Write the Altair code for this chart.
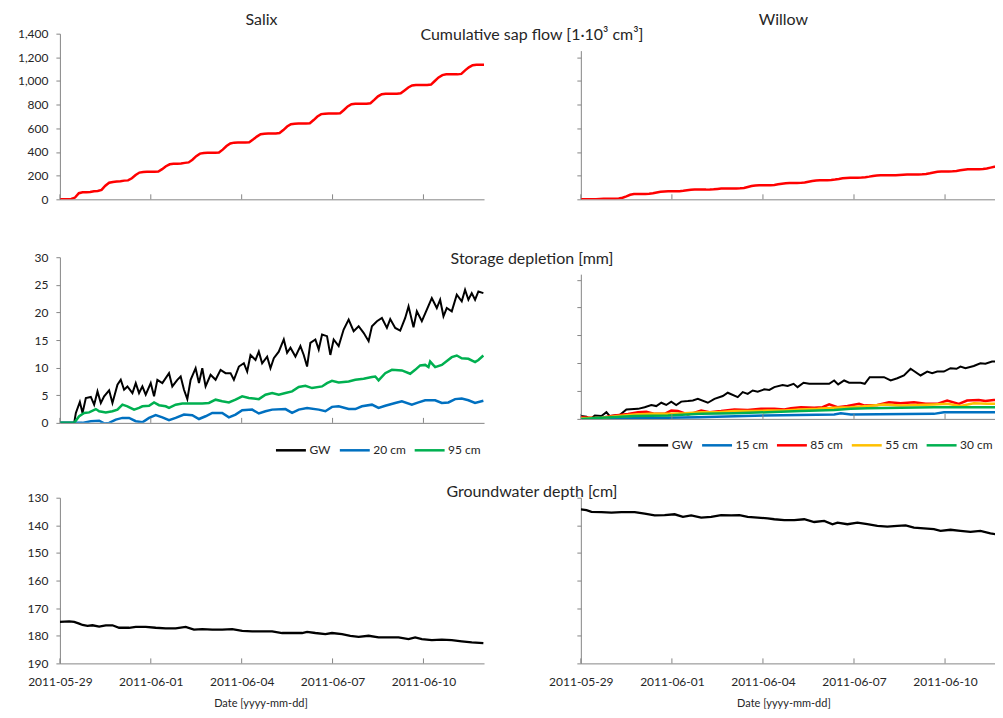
import altair as alt
import pandas as pd

# ---------------- data (days after 2011-05-29 00:00) ----------------
STEP3 = [i / 8 for i in range(113)]  # 3-hourly time grid, 0..14 days

salix_sap = [
    0, 0, 0, 3, 15, 52, 60, 60,
    62, 68, 70, 80, 115, 140, 147, 150,
    152, 158, 160, 178, 205, 226, 231, 232,
    233, 233, 235, 255, 280, 296, 300, 301,
    303, 308, 312, 335, 365, 386, 392, 393,
    393, 393, 395, 420, 450, 472, 479, 480,
    480, 480, 482, 505, 530, 550, 555, 556,
    556, 556, 560, 585, 615, 635, 639, 640,
    640, 640, 643, 670, 700, 720, 724, 725,
    725, 725, 728, 755, 785, 804, 808, 808,
    808, 808, 812, 840, 870, 888, 893, 893,
    893, 893, 896, 920, 945, 962, 966, 966,
    966, 966, 970, 1000, 1030, 1050, 1056, 1056,
    1056, 1056, 1060, 1090, 1115, 1133, 1138, 1138,
    1138,
]

willow_sap = [
    0, 0, 0, 0, 1, 3, 4, 5,
    5, 5, 8, 14, 25, 38, 44, 45,
    45, 46, 48, 52, 58, 64, 67, 68,
    68, 68, 69, 72, 76, 80, 82, 82,
    82, 82, 83, 85, 88, 91, 92, 92,
    92, 92, 93, 96, 104, 112, 116, 118,
    118, 118, 119, 122, 127, 132, 136, 138,
    138, 138, 139, 143, 149, 155, 160, 162,
    162, 162, 163, 167, 172, 178, 181, 183,
    183, 183, 184, 187, 192, 198, 201, 203,
    203, 203, 203, 204, 206, 208, 209, 210,
    210, 210, 211, 214, 220, 227, 233, 236,
    236, 236, 237, 240, 245, 250, 254, 255,
    255, 255, 257, 261, 268, 275, 280, 282,
    283,
]

# Salix storage depletion [mm]
salix_gw_t = [
    0, 0.472, 0.527, 0.659, 0.747, 0.856, 1.021, 1.131, 1.241, 1.351,
    1.460, 1.625, 1.735, 1.900, 2.009, 2.119, 2.229, 2.394, 2.504, 2.613,
    2.723, 2.833, 2.998, 3.108, 3.217, 3.382, 3.602, 3.711, 3.876, 3.986,
    4.096, 4.206, 4.315, 4.480, 4.590, 4.700, 4.809, 4.974, 5.139, 5.304,
    5.468, 5.633, 5.743, 5.908, 6.072, 6.182, 6.292, 6.457, 6.566, 6.676,
    6.841, 6.951, 7.061, 7.225, 7.390, 7.500, 7.610, 7.774, 7.939, 8.049,
    8.159, 8.268, 8.433, 8.543, 8.653, 8.817, 8.927, 9.037, 9.202, 9.366,
    9.531, 9.696, 9.861, 10.025, 10.190, 10.300, 10.465, 10.629, 10.794, 10.904,
    11.068, 11.233, 11.398, 11.508, 11.672, 11.782, 11.947, 12.112, 12.276, 12.441,
    12.551, 12.661, 12.770, 12.935, 13.100, 13.264, 13.374, 13.484, 13.594, 13.704,
    13.814, 13.978,
]
salix_gw_v = [
    0, 0, 1.8, 3.8, 1.8, 4.5, 4.7, 3.3, 5.7, 3.6,
    4.8, 5.9, 3.6, 6.9, 7.8, 6.0, 6.6, 5.4, 7.2, 5.4,
    6.6, 5.1, 7.2, 4.8, 7.8, 7.2, 9.0, 6.6, 7.8, 8.4,
    6.0, 4.3, 7.8, 9.9, 7.2, 9.9, 6.6, 8.7, 7.8, 9.6,
    9.0, 9.0, 7.8, 10.2, 10.8, 9.3, 12.3, 11.4, 12.9, 10.8,
    12.0, 9.9, 11.7, 12.9, 15.1, 12.7, 13.6, 12.0, 13.9, 12.3,
    10.2, 14.5, 15.1, 13.3, 16.0, 15.7, 12.3, 15.1, 13.9, 16.9,
    18.7, 16.6, 17.5, 16.3, 14.8, 17.5, 18.4, 19.0, 17.2, 18.8,
    17.2, 16.7, 19.0, 21.1, 17.3, 20.2, 18.4, 20.5, 22.6, 20.8,
    22.3, 19.3, 20.8, 20.2, 23.2, 22.0, 24.1, 22.3, 23.5, 22.3,
    23.8, 23.5,
]
salix_95_t = [
    0, 0.472, 0.637, 0.802, 0.966, 1.186, 1.296, 1.515, 1.735, 1.900,
    2.064, 2.229, 2.449, 2.613, 2.723, 2.943, 3.108, 3.272, 3.492, 3.602,
    3.821, 4.041, 4.370, 4.700, 4.919, 5.139, 5.358, 5.578, 5.798, 6.017,
    6.237, 6.566, 6.786, 7.006, 7.225, 7.445, 7.664, 7.884, 8.104, 8.323,
    8.653, 8.817, 8.982, 9.202, 9.531, 9.751, 10.025, 10.300, 10.410, 10.519,
    10.739, 10.959, 11.288, 11.563, 11.727, 11.892, 12.057, 12.166, 12.221, 12.386,
    12.606, 12.935, 13.100, 13.264, 13.484, 13.704, 13.814, 13.978,
]
salix_95_v = [
    0, 0, 1.2, 1.8, 1.9, 2.5, 2.1, 1.9, 2.1, 2.4,
    3.3, 3.0, 2.4, 2.7, 3.0, 3.1, 3.7, 3.2, 3.0, 2.7,
    3.3, 3.5, 3.5, 3.5, 3.6, 4.2, 3.9, 3.7, 4.2, 4.8,
    4.5, 4.3, 5.1, 5.4, 5.1, 5.4, 5.7, 6.5, 6.7, 6.3,
    6.6, 7.2, 7.6, 7.3, 7.5, 7.8, 8.0, 8.3, 8.4, 7.7,
    9.0, 9.6, 9.5, 8.9, 9.6, 10.4, 10.5, 10.1, 11.1, 10.1,
    10.5, 11.9, 12.2, 11.7, 11.6, 11.0, 11.4, 12.2,
]
salix_20_t = [
    0, 0.747, 1.021, 1.296, 1.460, 1.625, 1.845, 2.064, 2.284, 2.504,
    2.723, 2.943, 3.162, 3.382, 3.602, 3.821, 4.096, 4.370, 4.590, 4.809,
    5.029, 5.358, 5.578, 5.798, 6.017, 6.347, 6.566, 6.786, 7.006, 7.445,
    7.664, 7.884, 8.159, 8.543, 8.763, 8.982, 9.202, 9.531, 9.751, 9.970,
    10.300, 10.519, 10.739, 11.068, 11.288, 11.617, 11.837, 12.057, 12.386, 12.606,
    12.825, 13.045, 13.264, 13.484, 13.704, 13.978,
]
salix_20_v = [
    0, 0, 0.3, 0.4, -0.1, 0, 0.6, 0.9, 0.9, 0.3,
    0.1, 0.9, 1.4, 1.0, 0.5, 0.9, 1.5, 1.4, 0.7, 1.2,
    1.8, 1.8, 1.0, 1.5, 2.3, 2.4, 1.7, 2.1, 2.4, 2.5,
    1.8, 2.4, 2.7, 2.4, 2.1, 2.9, 3.0, 2.5, 2.5, 3.0,
    3.3, 2.7, 3.1, 3.6, 3.9, 3.3, 3.7, 4.1, 4.1, 3.6,
    3.7, 4.3, 4.4, 4.1, 3.6, 4.0,
]

# Willow storage depletion [mm]
willow_gw_t = [
    0, 0.186, 0.296, 0.460, 0.679, 0.843, 0.953, 1.281, 1.501, 1.884,
    2.103, 2.322, 2.486, 2.651, 2.815, 2.979, 3.143, 3.308, 3.527, 3.691,
    3.855, 4.184, 4.403, 4.677, 4.841, 5.170, 5.334, 5.498, 5.663, 5.827,
    6.046, 6.210, 6.375, 6.648, 6.813, 7.010, 7.141, 7.338, 7.525, 8.182,
    8.346, 8.478, 8.675, 8.839, 9.222, 9.354, 9.518, 9.989, 10.208, 10.427,
    10.646, 10.865, 11.194, 11.413, 11.577, 11.741, 11.961, 12.180, 12.377, 12.508,
    12.673, 12.946, 13.165, 13.330, 13.549, 13.713, 13.921, 14.0,
]
willow_gw_v = [
    0.5, 0.4, -0.1, 0.6, 0.5, 1.2, 0.5, 0.7, 1.7, 1.8,
    2.1, 2.5, 2.3, 2.9, 2.5, 3.1, 2.5, 3.1, 3.2, 3.3,
    3.6, 2.9, 3.6, 4.1, 4.7, 3.9, 4.8, 4.5, 5.1, 4.9,
    5.3, 5.2, 5.7, 6.1, 5.9, 6.3, 5.7, 6.5, 6.3, 6.3,
    6.9, 6.2, 6.9, 6.5, 6.5, 6.3, 7.5, 7.5, 6.9, 7.3,
    7.8, 9.0, 7.8, 8.5, 8.2, 8.5, 8.5, 9.1, 9.0, 9.4,
    9.1, 9.5, 10.0, 9.9, 10.3, 10.3, 10.0, 10.1,
]
willow_85_t = [
    0, 0.350, 0.570, 0.789, 1.117, 1.555, 1.884, 2.158, 2.432, 2.760,
    2.979, 3.198, 3.527, 3.746, 3.965, 4.239, 4.622, 5.060, 5.498, 5.936,
    6.375, 6.703, 6.922, 7.251, 7.689, 7.963, 8.182, 8.456, 8.784, 9.168,
    9.332, 9.770, 10.153, 10.537, 10.975, 11.358, 11.741, 12.070, 12.453, 12.727,
    13.111, 13.330, 13.604, 13.921, 14.0,
]
willow_85_v = [
    0.3, 0.2, -0.2, 0.3, 0.6, 0.9, 1.2, 1.3, 0.9, 0.9,
    1.5, 1.4, 0.8, 1.1, 1.5, 1.2, 1.4, 1.7, 1.6, 1.8,
    1.8, 1.7, 1.9, 2.1, 2.0, 2.1, 2.6, 2.1, 2.3, 2.7,
    2.4, 2.5, 3.0, 2.8, 3.0, 2.7, 2.7, 3.3, 2.7, 3.3,
    3.4, 3.2, 3.4, 3.3, 3.3,
]
willow_55_t = [
    0, 0.679, 1.227, 1.774, 2.322, 2.870, 3.417, 3.965, 4.513, 5.060,
    5.608, 6.156, 6.703, 7.251, 7.799, 8.346, 8.894, 9.441, 9.989, 10.537,
    11.084, 11.632, 12.070, 12.508, 12.946, 13.384, 13.921, 14.0,
]
willow_55_v = [
    0.1, 0.2, 0.5, 0.8, 0.9, 0.9, 1.0, 1.2, 1.2, 1.4,
    1.4, 1.5, 1.5, 1.7, 1.8, 2.0, 2.1, 2.3, 2.6, 2.4,
    2.5, 2.6, 2.7, 2.3, 2.8, 2.7, 2.7, 2.7,
]
willow_30_t = [0, 0.679, 1.774, 2.870, 3.965, 5.060, 6.156, 7.251, 8.346, 8.894,
               9.441, 10.537, 11.632, 12.727, 14.0]
willow_30_v = [0, 0.2, 0.5, 0.6, 0.9, 1.0, 1.2, 1.4, 1.6, 1.8,
               1.9, 2.0, 2.1, 2.1, 2.1]
willow_15_t = [0, 1.774, 3.855, 6.046, 8.346, 8.565, 8.894, 11.632, 11.961, 14.0]
willow_15_v = [0, 0.1, 0.3, 0.6, 0.8, 1.0, 0.8, 0.9, 1.2, 1.2]

# Groundwater depth [cm]
salix_depth_t = [
    0, 0.307, 0.472, 0.637, 0.747, 0.911, 1.076, 1.296, 1.515, 1.735,
    1.955, 2.284, 2.504, 2.833, 3.162, 3.492, 3.821, 4.151, 4.425, 4.700,
    5.029, 5.358, 5.688, 6.017, 6.347, 6.676, 7.006, 7.335, 7.664, 7.994,
    8.159, 8.433, 8.763, 8.982, 9.311, 9.586, 9.861, 10.190, 10.519, 10.849,
    11.178, 11.508, 11.727, 11.947, 12.276, 12.606, 12.935, 13.264, 13.594, 13.978,
]
salix_depth_v = [
    175.0, 174.8, 175.0, 175.6, 176.1, 176.4, 176.2, 176.7, 176.2, 176.2,
    177.1, 177.1, 176.8, 176.8, 177.1, 177.3, 177.3, 176.8, 177.8, 177.6,
    177.8, 177.8, 177.6, 178.2, 178.4, 178.4, 178.4, 179.0, 179.0, 179.0,
    178.6, 179.0, 179.4, 179.0, 179.4, 180.0, 180.4, 180.0, 180.6, 180.6,
    180.6, 181.2, 180.6, 181.2, 181.6, 181.4, 181.6, 182.0, 182.4, 182.7,
]
willow_depth_t = [
    0, 0.186, 0.350, 0.679, 1.008, 1.336, 1.774, 2.103, 2.432, 2.760,
    3.089, 3.363, 3.636, 3.965, 4.294, 4.622, 4.951, 5.225, 5.498, 5.827,
    6.156, 6.375, 6.703, 7.032, 7.360, 7.689, 8.018, 8.291, 8.456, 8.784,
    9.113, 9.441, 9.770, 10.099, 10.427, 10.701, 10.975, 11.303, 11.632, 11.851,
    12.180, 12.508, 12.837, 13.165, 13.494, 13.713, 13.921, 14.0,
]
willow_depth_v = [
    134.2, 134.5, 135.1, 135.2, 135.4, 135.2, 135.2, 135.8, 136.4, 136.3,
    136.0, 136.9, 136.4, 137.2, 136.9, 136.3, 136.4, 136.3, 136.9, 137.2,
    137.5, 137.8, 138.1, 138.1, 137.8, 138.8, 138.4, 139.6, 139.0, 139.6,
    139.0, 139.6, 140.2, 140.5, 140.2, 140.0, 140.8, 141.1, 141.4, 142.0,
    141.6, 142.0, 142.4, 142.0, 142.9, 143.3, 142.9, 143.0,
]

tick_dates = ["2011-05-29", "2011-06-01", "2011-06-04", "2011-06-07", "2011-06-10"]
salix_names = ["GW", "20 cm", "95 cm"]
salix_colors = ["#000000", "#0070C0", "#00B050"]
willow_names = ["GW", "15 cm", "85 cm", "55 cm", "30 cm"]
willow_colors = ["#000000", "#0070C0", "#FF0000", "#FFC000", "#00B050"]

# ---------------- styling ----------------
FONT = "Lato"
AX = "#868686"
TXT = "#262626"
BASE = pd.Timestamp("2011-05-29")


def to_dates(days):
    return [(BASE + pd.Timedelta(days=d)).strftime("%Y-%m-%dT%H:%M:%S") for d in days]


tick_vals = [alt.DateTime(year=int(s[:4]), month=int(s[5:7]), date=int(s[8:])) for s in tick_dates]
# left panels show the full fortnight; the right panels are cut by the page edge
xs_left = alt.Scale(domain=[alt.DateTime(year=2011, month=5, date=29),
                            alt.DateTime(year=2011, month=6, date=12)])
xs_right = alt.Scale(domain=[alt.DateTime(year=2011, month=5, date=29),
                             alt.DateTime(year=2011, month=6, date=11, hours=15, minutes=30)])

x_hidden = alt.Axis(values=tick_vals, labels=False, ticks=False, title=None, grid=False,
                    domainColor=AX)


def x_bottom(title_x):
    return alt.Axis(values=tick_vals, format="%Y-%m-%d", labelFlush=False, ticks=False,
                    labelPadding=13, title="Date [yyyy-mm-dd]", titleX=title_x,
                    titlePadding=10, titleFontSize=11, titleFontWeight="normal",
                    titleColor=TXT, grid=False, domainColor=AX, labelFontSize=12)


def y_axis(values, show_labels, fmt=None):
    kw = dict(values=values, labels=show_labels, tickSize=4, tickColor=AX, domainColor=AX,
              grid=False, title=None, labelPadding=8, labelFontSize=12)
    if fmt:
        kw["format"] = fmt
    return alt.Axis(**kw)


def frame(df_days, vals, name):
    return pd.DataFrame({"d": to_dates(df_days), "v": vals, "s": name})


def line(days, vals, name, xs, xaxis, yscale, yaxis, color=None, width=2.5, cenc=None):
    ch = alt.Chart(frame(days, vals, name))
    enc = dict(x=alt.X("d:T", scale=xs, axis=xaxis), y=alt.Y("v:Q", scale=yscale, axis=yaxis))
    if cenc is None:
        return ch.mark_line(color=color, strokeWidth=width, clip=True).encode(**enc)
    return ch.mark_line(strokeWidth=width, clip=True).encode(color=cenc, **enc)


def xticks(h, xs, xaxis):
    df = pd.DataFrame({"d": [s + "T00:00:00" for s in tick_dates]})
    return alt.Chart(df).mark_rule(color=AX, strokeWidth=1).encode(
        x=alt.X("d:T", scale=xs, axis=xaxis), y=alt.value(h - 5), y2=alt.value(h))


def label(text, x, y, size=16, align="center"):
    df = pd.DataFrame({"t": [text]})
    return alt.Chart(df).mark_text(font=FONT, fontSize=size, color=TXT, align=align,
                                   baseline="alphabetic").encode(
        text="t:N", x=alt.value(x), y=alt.value(y))


def legend(x, y, n, pad):
    return alt.Legend(orient="none", legendX=x, legendY=y, direction="horizontal", columns=n,
                      title=None, symbolType="stroke", symbolSize=900, symbolStrokeWidth=2.5,
                      labelFont=FONT, labelFontSize=12, labelColor=TXT, columnPadding=pad,
                      gridAlign="none", labelOffset=2, padding=0, offset=0)


WL, WR = 425, 415

# ---- row 1: cumulative sap flow ----
ys11 = alt.Scale(domain=[0, 1400])
c11 = alt.layer(
    line(STEP3, salix_sap, "Salix", xs_left, x_hidden, ys11,
         y_axis(list(range(0, 1401, 200)), True, ",.0f"), color="#FF0000", width=2.5),
    xticks(166, xs_left, x_hidden),
    label("Salix", 202, -9),
    label("Cumulative sap flow [1\u00b710\u00b3 cm\u00b3]", 473, 6),
).properties(width=WL, height=166)

ys12 = alt.Scale(domain=[0, 1257], range=[166, 17])
c12 = alt.layer(
    line(STEP3, willow_sap, "Willow", xs_right, x_hidden, ys12,
         y_axis(list(range(0, 1201, 200)), False), color="#FF0000", width=2.5),
    xticks(166, xs_right, x_hidden),
    label("Willow", 203, -9),
).properties(width=WR, height=166)

# ---- row 2: storage depletion ----
ys21 = alt.Scale(domain=[0, 30])
ya21 = y_axis(list(range(0, 31, 5)), True)
cs21 = alt.Color("s:N", scale=alt.Scale(domain=salix_names, range=salix_colors),
                 legend=legend(215, 177, 3, 3))
c21 = alt.layer(
    line(salix_gw_t, salix_gw_v, "GW", xs_left, x_hidden, ys21, ya21, width=2, cenc=cs21),
    line(salix_20_t, salix_20_v, "20 cm", xs_left, x_hidden, ys21, ya21, width=2.5, cenc=cs21),
    line(salix_95_t, salix_95_v, "95 cm", xs_left, x_hidden, ys21, ya21, width=2.5, cenc=cs21),
    xticks(166, xs_left, x_hidden),
    label("Storage depletion [mm]", 473, 7),
).properties(width=WL, height=166)

ys22 = alt.Scale(domain=[0, 26], range=[162, 17])
ya22 = y_axis(list(range(0, 26, 5)), False)
cs22 = alt.Color("s:N", scale=alt.Scale(domain=willow_names, range=willow_colors),
                 legend=legend(56, 172, 5, 3))
c22 = alt.layer(
    line(willow_gw_t, willow_gw_v, "GW", xs_right, x_hidden, ys22, ya22, width=2, cenc=cs22),
    line(willow_15_t, willow_15_v, "15 cm", xs_right, x_hidden, ys22, ya22, width=2.5, cenc=cs22),
    line(willow_85_t, willow_85_v, "85 cm", xs_right, x_hidden, ys22, ya22, width=2.5, cenc=cs22),
    line(willow_55_t, willow_55_v, "55 cm", xs_right, x_hidden, ys22, ya22, width=2.5, cenc=cs22),
    line(willow_30_t, willow_30_v, "30 cm", xs_right, x_hidden, ys22, ya22, width=2.5, cenc=cs22),
    xticks(162, xs_right, x_hidden),
).properties(width=WR, height=162)

# ---- row 3: groundwater depth ----
ys3 = alt.Scale(domain=[130, 190], range=[17, 183])
c31 = alt.layer(
    line(salix_depth_t, salix_depth_v, "GW", xs_left, x_bottom(201), ys3,
         y_axis(list(range(130, 191, 10)), True), color="#000000", width=2.3),
    xticks(183, xs_left, x_bottom(201)),
    label("Groundwater depth [cm]", 473, 16),
).properties(width=WL, height=183)

c32 = alt.layer(
    line(willow_depth_t, willow_depth_v, "GW", xs_right, x_bottom(203), ys3,
         y_axis(list(range(130, 191, 10)), False), color="#000000", width=2.3),
    xticks(183, xs_right, x_bottom(203)),
).properties(width=WR, height=183)

chart = alt.concat(
    c11, c12, c21, c22, c31, c32, columns=2, bounds="flush",
    spacing={"row": 58, "column": 97},
).resolve_scale(
    color="independent", x="independent", y="independent"
).properties(
    padding={"left": 9, "top": 3, "right": 0, "bottom": 0}
).configure_axis(
    labelFont=FONT, labelColor=TXT, titleFont=FONT, grid=False
).configure_view(stroke=None)

chart.save("out.html", embed_options={"renderer": "svg", "actions": False})
